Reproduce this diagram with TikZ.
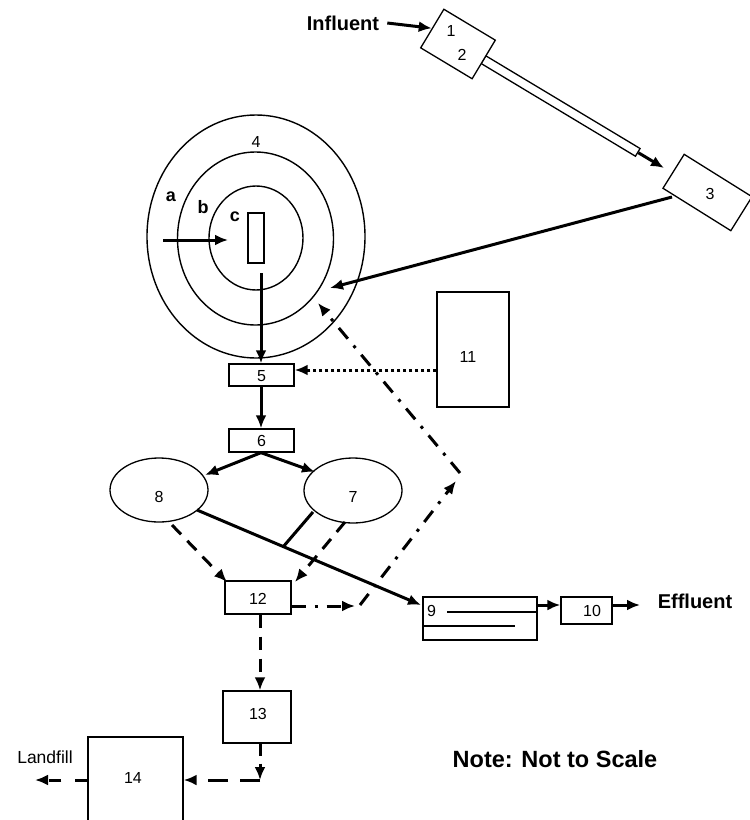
\documentclass[tikz,border=0pt]{standalone}
\usepackage{fontspec}
\setmainfont{Liberation Sans}
\usetikzlibrary{arrows.meta,shapes.geometric}
\begin{document}
\begin{tikzpicture}[x=1pt,y=-1pt,
  box/.style={draw,line width=1.3pt,rectangle,inner sep=0pt,fill=white},
  num/.style={font=\fontsize{16}{16}\selectfont,inner sep=0pt},
  big/.style={font=\fontsize{20}{20}\selectfont\bfseries,inner sep=0pt},
  abc/.style={font=\fontsize{18}{18}\selectfont\bfseries,inner sep=0pt},
  arr/.style={line width=3pt,-{Latex[length=13pt,width=11pt]}},
  dsh/.style={arr,dash pattern=on 13pt off 9pt},
  dshdot/.style={arr,dash pattern=on 14pt off 9pt on 3pt off 9pt},
  dots/.style={arr,dash pattern=on 3pt off 3pt},
  ring/.style={draw,line width=1.4pt,ellipse,inner sep=0pt},
  oval/.style={draw,line width=1.3pt,ellipse,inner sep=0pt,fill=white}]
\useasboundingbox (0,0) rectangle (750,820);
\clip (0,0) rectangle (750,820);

% influent, boxes 1-2, pipe, box 3
\node[box,rotate=-31,minimum width=180,minimum height=9] (pipe) at (560.6,106) {};
\node[box,rotate=-31,minimum width=60,minimum height=45] (b12) at (458,44) {};
\node[num] (l1) at (451,31) {1};
\node[num] (l2) at (462,55) {2};
\node[big] (infl) at (343,23) {Influent};
\draw[arr] ([xshift=8pt]infl.east) -- (b12.west);
\node[box,rotate=-32,minimum width=80,minimum height=40] (b3) at (707.5,192.5) {};
\node[num] (l3) at (710,194) {3};
\coordinate (b3in) at (664,168);
\draw[arr] (pipe.east) -- (b3in);

% digester rings
\node[ring,minimum width=218,minimum height=243] (ra) at (256,236.5) {};
\node[ring,minimum width=156,minimum height=173] (rb) at (255.5,238.5) {};
\node[ring,minimum width=94,minimum height=104] (rc) at (256,238) {};
\node[box,minimum width=16,minimum height=50] (core) at (256,238) {};
\node[num] (l4) at (256,142) {4};
\node[abc] (la) at (171,197) {a};
\node[abc] (lb) at (203,207) {b};
\node[abc] (lc) at (235,217) {c};
\coordinate (ain) at (163,240);
\coordinate (cin) at (228,240);
\draw[arr] (ain) -- (cin);

\coordinate (b3out) at (672,197);
\coordinate (ringin) at (330,288);
\draw[arr] (b3out) -- (ringin);

% box 5, 11, 6
\node[box,minimum width=65,minimum height=22] (b5) at (261.5,375) {};
\node[num] at (261.5,376) {5};
\coordinate (coreout) at (261,273);
\draw[arr] (coreout) -- (b5.north -| coreout);
\node[box,minimum width=72,minimum height=115] (b11) at (473,349.5) {};
\node[num] at (468,357) {11};
\draw[dots] (b11.west |- 0,370) -- (b5.east |- 0,370);
\node[box,minimum width=65,minimum height=23] (b6) at (261.5,440.5) {};
\node[num] at (261.5,441) {6};
\draw[arr] (b5.south -| coreout) -- (b6.north -| coreout);

% ellipses 7, 8
\node[oval,minimum width=98,minimum height=64] (e8) at (159,490) {};
\node[num] at (159,497) {8};
\node[oval,minimum width=98,minimum height=65] (e7) at (353,490.5) {};
\node[num] at (353,497) {7};
\draw[arr] (b6.south -| coreout) -- (205,475) coordinate (e8in);
\draw[arr] (b6.south -| coreout) -- (315,472) coordinate (e7in);

% box 12, 9, 10
\node[box,minimum width=66,minimum height=33] (b12b) at (258,597.5) {};
\node[num] at (258,599) {12};
\node[box,minimum width=114,minimum height=43] (b9) at (480,618.5) {};
\node[num,anchor=west] at (427,611) {9};
\draw[line width=1.3pt] (447,612) -- (b9.east |- 0,612);
\draw[line width=1.3pt] (b9.west |- 0,626) -- (515,626);
\node[box,minimum width=51,minimum height=27] (b10) at (586.5,610.5) {};
\node[num] at (592,611) {10};
\node[big] (effl) at (695,601) {Effluent};

\coordinate (e8out) at (197,510);
\coordinate (b9in) at (421,605);
\draw[line width=3pt] (313,512) coordinate (e7out) -- (283,547) coordinate (junc);
\draw[arr] (e8out) -- (b9in);
\draw[arr] (b9.east |- 0,605) -- (b10.west |- 0,605);
\draw[arr] (b10.east |- 0,605) -- (640,605) coordinate (efflin);

\draw[dsh] (172,525) coordinate (e8d) -- (227,582) coordinate (b12l);
\draw[dsh] (345,522) coordinate (e7d) -- (295,582) coordinate (b12r);

% recycle dash-dot
\coordinate (rc1) at (355,606);
\coordinate (rc2) at (360,605);
\coordinate (rc3) at (456,481);
\coordinate (rc4) at (460,473);
\coordinate (rc5) at (318,303);
\draw[dshdot] (b12b.east |- rc1) -- (rc1);
\draw[dshdot] (rc2) -- (rc3);
\draw[dshdot] (rc4) -- (rc5);

% sludge line 13, 14
\node[box,minimum width=68,minimum height=52] (b13) at (257,717) {};
\node[num] at (258,714) {13};
\draw[dsh] (b12b.south -| 260,0) -- (b13.north -| 260,0);
\coordinate (corner) at (260,780);
\draw[dsh,dash pattern=on 12pt off 8pt] (b13.south -| 260,0) -- (corner);
\node[box,minimum width=95,minimum height=100] (b14) at (135.5,787) {};
\node[num] at (133,778) {14};
\draw[dsh,dash pattern=on 20pt off 12pt] (corner) -- (b14.east |- corner);
\coordinate (lfend) at (35,780);
\draw[dsh,dash pattern=on 12pt off 14pt] (b14.west |- corner) -- (lfend);
\node[font=\fontsize{17.5}{17.5}\selectfont,inner sep=0pt] (lf) at (45,757) {Landfill};

\node[font=\fontsize{23.5}{23.5}\selectfont\bfseries,inner sep=0pt] (note) at (555,759) {Note: Not to Scale};
\end{tikzpicture}
\end{document}
